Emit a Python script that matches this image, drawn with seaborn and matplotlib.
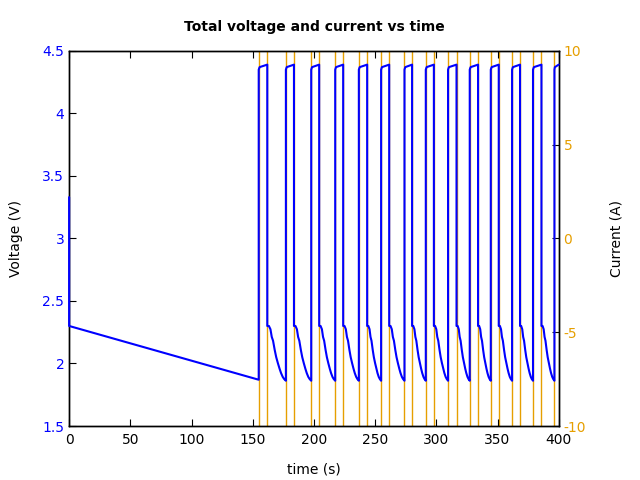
import numpy as np
import pandas as pd
import matplotlib
matplotlib.use("Agg")
import matplotlib.pyplot as plt
from matplotlib.ticker import FuncFormatter
import seaborn as sns

# pulse edges (s)
rise_times = [154.9, 177.1, 197.8, 217.4, 236.7, 254.9, 274.0, 291.4,
              309.6, 327.3, 344.5, 361.9, 379.0, 396.5]
fall_times = [161.9, 183.7, 204.3, 223.9, 243.5, 261.5, 280.2, 298.0,
              316.5, 334.1, 351.0, 368.4, 385.9]
t_end = 400.0

# voltage levels (V)
v_open = 3.33
v_rest_start = 2.30
v_first_end = 1.87
charge_frac = [0.0, 0.1, 1.0]
charge_volt = [4.35, 4.37, 4.39]
# shape of one discharge between a fall and the next rise
dis_frac = [0.0, 0.086, 0.17, 0.24, 0.31, 0.40, 0.48, 0.57, 0.66, 0.74, 0.83, 0.91, 1.0]
dis_drop = [0.0, 0.0, 0.06, 0.20, 0.27, 0.44, 0.57, 0.68, 0.78, 0.86, 0.93, 0.97, 1.0]
v_dis_top = 2.30
v_dis_low = 1.862

# current levels (A), off the axis range
i_charge = 20
i_discharge = -20

t_v = [0.0, 0.0, rise_times[0]]
v_v = [v_open, v_rest_start, v_first_end]
for k, r in enumerate(rise_times):
    f = fall_times[k] if k < len(fall_times) else t_end
    for fr, vv in zip(charge_frac, charge_volt):
        t_v.append(r + fr * (f - r))
        v_v.append(vv)
    if k < len(fall_times):
        nxt = rise_times[k + 1]
        for fr, d in zip(dis_frac, dis_drop):
            t_v.append(f + fr * (nxt - f))
            v_v.append(v_dis_top - d * (v_dis_top - v_dis_low))
volt = pd.DataFrame({"time": t_v, "voltage": v_v})

t_i = [0.0]
i_i = [i_discharge]
for k, r in enumerate(rise_times):
    t_i += [r, r]
    i_i += [i_discharge, i_charge]
    if k < len(fall_times):
        t_i += [fall_times[k], fall_times[k]]
        i_i += [i_charge, i_discharge]
t_i.append(t_end)
i_i.append(i_i[-1])
curr = pd.DataFrame({"time": t_i, "current": i_i})

sns.set_style("ticks")
plt.rcParams['font.family'] = ['DejaVu Sans']
plt.rcParams['text.color'] = 'black'
plt.rcParams['axes.labelcolor'] = 'black'
plt.rcParams['xtick.color'] = 'black'
plt.rcParams['ytick.color'] = 'black'
blue = "#0000ff"
orange = "#e69f00"

fig, ax = plt.subplots(figsize=(6.4, 4.8), dpi=100)
fig.subplots_adjust(left=0.108, right=0.873, top=0.894, bottom=0.1125)
ax2 = ax.twinx()

sns.lineplot(data=curr, x="time", y="current", ax=ax2, color=orange,
             linewidth=1.0, estimator=None, sort=False)
sns.lineplot(data=volt, x="time", y="voltage", ax=ax, color=blue,
             linewidth=1.5, estimator=None, sort=False, zorder=3,
             clip_on=False)
ax.set_zorder(ax2.get_zorder() + 1)
ax.patch.set_visible(False)

ax.set_xlim(0, 400)
ax.set_ylim(1.5, 4.5)
ax2.set_ylim(-10, 10)
ax.set_xticks(np.arange(0, 401, 50))
ax.set_yticks(np.arange(1.5, 4.51, 0.5))
ax2.set_yticks([-10, -5, 0, 5, 10])
fmt = FuncFormatter(lambda v, p: "%g" % v)
ax.yaxis.set_major_formatter(fmt)
ax2.yaxis.set_major_formatter(fmt)

ax.tick_params(axis="x", direction="in", top=True, length=5, labelsize=10, pad=5)
ax.tick_params(axis="y", direction="in", length=5, labelsize=10, labelcolor=blue)
ax2.tick_params(axis="y", direction="in", length=5, labelsize=10, labelcolor=orange)
for a in (ax, ax2):
    for s in a.spines.values():
        s.set_visible(True)
        s.set_color("black")
        s.set_linewidth(1.0)

ax.set_xlabel("time (s)", fontsize=10, labelpad=11)
ax.set_ylabel("Voltage (V)", fontsize=10, labelpad=14)
ax2.set_ylabel("Current (A)", fontsize=10, labelpad=17)
ax.set_title("Total voltage and current vs time", fontsize=10,
             fontweight="bold", pad=14)

fig.savefig("out.png", dpi=100)
